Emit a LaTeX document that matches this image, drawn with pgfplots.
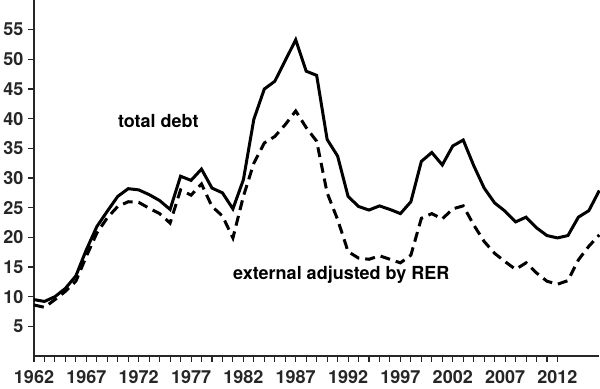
\documentclass[border=0pt]{standalone}
\usepackage{pgfplots}
\pgfplotsset{compat=1.18}
\usepackage{fontspec}
\setmainfont{TeX Gyre Heros}
\pgfplotstableread{
year total ext
1962 9.5 8.6
1963 9.2 8.2
1964 10.0 9.5
1965 11.4 10.9
1966 13.5 12.6
1967 17.9 16.8
1968 21.8 20.7
1969 24.4 23.3
1970 26.9 25.2
1971 28.2 26.0
1972 28.0 25.9
1973 27.2 24.9
1974 26.2 24.0
1975 24.7 22.4
1976 30.3 28.0
1977 29.6 27.1
1978 31.5 29.0
1979 28.3 25.2
1980 27.5 23.6
1981 24.8 19.9
1982 29.7 26.9
1983 39.9 32.5
1984 45.0 35.9
1985 46.3 37.0
1986 49.8 39.0
1987 53.3 41.3
1988 48.0 38.5
1989 47.3 36.2
1990 36.5 27.5
1991 33.7 23.0
1992 26.9 17.6
1993 25.2 16.5
1994 24.6 16.3
1995 25.3 16.9
1996 24.7 16.3
1997 24.0 15.7
1998 26.0 17.0
1999 32.8 23.2
2000 34.3 24.0
2001 32.2 23.1
2002 35.4 24.8
2003 36.4 25.3
2004 32.1 22.1
2005 28.3 19.3
2006 25.8 17.3
2007 24.4 15.9
2008 22.6 14.6
2009 23.4 15.7
2010 21.6 14.0
2011 20.3 12.6
2012 19.9 12.1
2013 20.3 12.7
2014 23.4 16.2
2015 24.5 18.5
2016 27.9 20.4
}\datatable
\begin{document}
\begin{tikzpicture}
\begin{axis}[
  scale only axis,
  width=424.0pt, height=267pt,
  xmin=1962, xmax=2016,
  ymin=0, ymax=60,
  axis lines*=left,
  axis line style={line width=1pt, black!85},
  tick style={line width=0.8pt, black!85},
  tick align=outside,
  major tick length=4.5pt,
  minor tick length=4.5pt,
  xtick={1962,1967,1972,1977,1982,1987,1992,1997,2002,2007,2012},
  xticklabels={1962,1967,1972,1977,1982,1987,1992,1997,2002,2007,2012},
  minor x tick num=4,
  ytick={5,10,15,20,25,30,35,40,45,50,55},
  yticklabels={5,10,15,20,25,30,35,40,45,50,55},
  ticklabel style={font=\fontsize{13.5}{16}\selectfont\bfseries, text=black!85},
  xticklabel style={anchor=north, yshift=-3pt},
  clip=false,
]
\addplot[black, line width=2.25pt, mark=none] table[x=year, y=total] {\datatable};
\addplot[black, line width=2.25pt, mark=none, dash pattern=on 7.5pt off 4.5pt] table[x=year, y=ext] {\datatable};
\node[anchor=base west, inner sep=0pt, font=\fontsize{13.5}{16}\selectfont\bfseries] at (axis cs:1970,38.5) {total debt};
\node[anchor=base west, inner sep=0pt, font=\fontsize{13.5}{16}\selectfont\bfseries] at (axis cs:1981,12.84) {external adjusted by RER};
\end{axis}
\pgfresetboundingbox
\path[use as bounding box] (-25.5pt,-24.75pt) rectangle (424.5pt,267pt);
\end{tikzpicture}
\end{document}
